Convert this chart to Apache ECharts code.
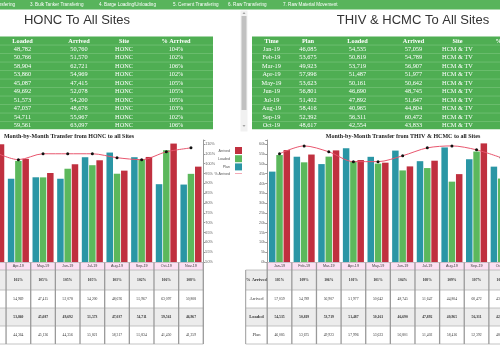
<!DOCTYPE html>
<html><head><meta charset="utf-8">
<script src="https://cdn.jsdelivr.net/npm/echarts@6/dist/echarts.min.js"></script>
<style>html,body{margin:0;padding:0;background:#fff;overflow:hidden}#c{width:500px;height:350px}</style>
</head><body><div id="c"></div>
<script>
// ---------- data ----------
const navTabs = ['2. Transfering','3. Bulk Tanker Transfering','4. Barge Loading\\Unloading','5. Cement Transfering','6. Raw Transfering','7. Raw Material Movement'];

const honcMonths  = ['Jan-19','Feb-19','Mar-19','Apr-19','May-19','Jun-19','Jul-19','Aug-19','Sep-19','Oct-19','Nov-19'];
const honcLoaded  = [48782,50766,58904,53860,45087,49692,51573,47037,54711,59561,46967];
const honcArrived = [50760,51570,62721,54969,47415,52078,54200,48676,55967,63097,50808];
const honcPct     = [104,102,106,102,105,105,105,103,102,106,108];
const honcPlan    = [null,null,47128,44364,45136,44356,55821,58317,55834,41450,41259];
const honcSite    = 'HONC';

const thivMonths  = ['Jan-19','Feb-19','Mar-19','Apr-19','May-19','Jun-19','Jul-19','Aug-19','Sep-19','Oct-19'];
const thivPlan    = [46085,53675,49923,57996,53623,56801,51402,58416,52392,48617];
const thivLoaded  = [54535,50819,53719,51487,50161,46690,47892,40965,56311,42554];
const thivArrived = [57059,54789,56907,51977,50642,48745,51647,44804,60472,43833];
const thivPct     = [105,109,106,101,101,104,108,109,107,103];
const thivSite    = 'HCM & TV';

const rowNames = ['% Arrived','Arrived','Loaded','Plan'];

// ---------- style ----------
const C_PLAN='#2a96a5', C_LOAD='#5cb85c', C_ARR='#c0303f', C_LINE='#e8566e';
const GREEN='#4fae53', GREEN_LINE='#72c275';
const SERIF='"Liberation Serif", "Times New Roman", serif';
const SANS='"Liberation Sans", Arial, sans-serif';
const fmt = v => v==null ? '' : v.toLocaleString('en-US');
const L0 = 2; // left chart starts at Mar (scrolled view)

const chart = echarts.init(document.getElementById('c'));

function valAxisLabel(unit){
  return {fontSize:3.8, color:'#666', fontFamily:SANS, margin:2,
    formatter: v => unit==='k' ? (v%5000===0 ? (v/1000)+'k' : '') : (v%5===0 ? v+'%' : '')};
}

const option = {
  animation:false,
  grid:[{left:-18.6, top:140, width:221.9, height:122, outerBoundsMode:'none', containLabel:false},
        {left:267.2, top:140, width:246.3, height:122, outerBoundsMode:'none', containLabel:false}],
  legend:{orient:'vertical', right:253, top:142, align:'right', itemWidth:7, itemHeight:7, itemGap:1.2,
    textStyle:{fontSize:3.6, color:'#555', fontFamily:SANS, padding:[0,0,0,0]},
    data:[{name:'Arrived',icon:'rect'},{name:'Loaded',icon:'rect'},{name:'Plan',icon:'rect'},
          {name:'% Arrived',icon:'path://M0,0H14V1H0Z', itemStyle:{color:C_LINE}}]},
  xAxis:[
    {type:'category', gridIndex:0, data:honcMonths.slice(L0), axisLine:{lineStyle:{color:'#999'}}, axisTick:{show:false}, axisLabel:{show:false}},
    {type:'category', gridIndex:1, data:thivMonths, axisLine:{lineStyle:{color:'#999'}}, axisTick:{show:false}, axisLabel:{show:false}}
  ],
  yAxis:[
    {type:'value', gridIndex:0, min:0, max:65000, show:false},
    {type:'value', gridIndex:0, position:'right', min:50, max:112, interval:5,
      axisLine:{show:true, lineStyle:{color:'#999'}}, axisTick:{show:true, length:2, lineStyle:{color:'#999'}},
      splitLine:{show:false}, axisLabel:valAxisLabel('%')},
    {type:'value', gridIndex:1, position:'left', min:0, max:62200, interval:5000,
      axisLine:{show:true, lineStyle:{color:'#999'}}, axisTick:{show:true, length:2, lineStyle:{color:'#999'}},
      splitLine:{show:false}, axisLabel:valAxisLabel('k')},
    {type:'value', gridIndex:1, position:'right', min:50, max:112, show:false}
  ],
  series:[
    {name:'Plan', type:'bar', xAxisIndex:0, yAxisIndex:0, data:honcPlan.slice(L0), itemStyle:{color:C_PLAN}, barWidth:6.5, barGap:'12%'},
    {name:'Loaded', type:'bar', xAxisIndex:0, yAxisIndex:0, data:honcLoaded.slice(L0), itemStyle:{color:C_LOAD}, barWidth:6.5, barGap:'12%'},
    {name:'Arrived', type:'bar', xAxisIndex:0, yAxisIndex:0, data:honcArrived.slice(L0), itemStyle:{color:C_ARR}, barWidth:6.5, barGap:'12%'},
    {name:'% Arrived', type:'line', xAxisIndex:0, yAxisIndex:1, data:honcPct.slice(L0), smooth:0.3,
      symbol:'circle', symbolSize:3, itemStyle:{color:'#111'}, lineStyle:{color:C_LINE, width:1}, z:5},
    {name:'Plan', type:'bar', xAxisIndex:1, yAxisIndex:2, data:thivPlan, itemStyle:{color:C_PLAN}, barWidth:6.5, barGap:'12%'},
    {name:'Loaded', type:'bar', xAxisIndex:1, yAxisIndex:2, data:thivLoaded, itemStyle:{color:C_LOAD}, barWidth:6.5, barGap:'12%'},
    {name:'Arrived', type:'bar', xAxisIndex:1, yAxisIndex:2, data:thivArrived, itemStyle:{color:C_ARR}, barWidth:6.5, barGap:'12%'},
    {name:'% Arrived', type:'line', xAxisIndex:1, yAxisIndex:3, data:thivPct, smooth:0.3,
      symbol:'circle', symbolSize:3, itemStyle:{color:'#111'}, lineStyle:{color:C_LINE, width:1}, z:5}
  ]
};
chart.setOption(option);

// ---------- graphic (tables, titles, nav) ----------
const G = [];
function txt(x,y,t,o){ o=o||{}; G.push({type:'text', x:x, y:y, z:o.z||100, style:{text:t, fill:o.fill||'#222',
  fontSize:o.size||5, fontFamily:o.family||SANS, fontWeight:o.weight||'normal', align:o.align||'center', verticalAlign:'middle'}}); }
function rect(x,y,w,h,fill,z){ G.push({type:'rect', z:z||99, shape:{x:x,y:y,width:w,height:h}, style:{fill:fill}}); }
function line(x1,y1,x2,y2,stroke,w,z){ G.push({type:'line', z:z||101, shape:{x1:x1,y1:y1,x2:x2,y2:y2}, style:{stroke:stroke, lineWidth:w||1}}); }

// nav bar
rect(0,0,500,9.5,'#58b45c');
const navX=[15,30,99,173,228,283];
navTabs.forEach((t,i)=>txt(navX[i],5,t,{fill:'#fff',size:4.6,align:i===0?'right':'left'}));

// titles
txt(77,20.5,'HONC To All Sites',{size:13,fill:'#333'});
txt(413,20.5,'THIV & HCMC To All Sites',{size:13,fill:'#333'});

// top tables
const rowY0=49.3, rowH=8.5;
function greenTable(x0,x1,cols,colX,rows){
  rect(x0,36.5,x1-x0,93,GREEN);
  cols.forEach((c,j)=>txt(colX[j],41.5,c,{fill:'#fff',size:6.3,family:SERIF,weight:'bold'}));
  for(let i=0;i<rows.length;i++){
    const y=rowY0+i*rowH;
    line(x0,y-4.25,x1,y-4.25,GREEN_LINE,0.8);
    rows[i].forEach((v,j)=>txt(colX[j],y,v,{fill:'#fff',size:6.3,family:SERIF}));
  }
  rect(x0,129.5,x1-x0,4,'#fff',102);
}
greenTable(0,213,['Loaded','Arrived','Site','% Arrived'],[22.5,79,124,176],
  honcLoaded.slice(0,10).map((v,i)=>[fmt(v),fmt(honcArrived[i]),honcSite,honcPct[i]+'%']));
greenTable(252,520,['Time','Plan','Loaded','Arrived','Site','% Arrived'],[271.5,308,357.5,413.5,457.5,510],
  thivMonths.map((m,i)=>[m,fmt(thivPlan[i]),fmt(thivLoaded[i]),fmt(thivArrived[i]),thivSite,thivPct[i]+'%']));

// scrollbar
rect(240.5,10.5,7,121,'#f1f1f1');
rect(241.5,16,5,94,'#c1c1c1',100);
G.push({type:'polygon',z:101,shape:{points:[[242.5,14],[245.5,14],[244,12]]},style:{fill:'#a3a3a3'}});
G.push({type:'polygon',z:101,shape:{points:[[242.5,125],[245.5,125],[244,127]]},style:{fill:'#a3a3a3'}});

// chart titles
txt(69,136.5,'Month-by-Month Transfer from HONC to all Sites',{size:6,family:SERIF,weight:'bold',fill:'#222'});
txt(403,136.5,'Month-by-Month Transfer from THIV & HCMC to all Sites',{size:6,family:SERIF,weight:'bold',fill:'#222'});

// bottom tables (column positions from the category axes)
const rowTop=[262.5,270,290,308,326,344];
function bottomTable(axisIdx,cats,rowsData,withHeader){
  const cx = i => chart.convertToPixel({xAxisIndex:axisIdx}, i);
  const band = cx(1)-cx(0);
  const xL = cx(0)-band/2, xR = cx(cats.length-1)+band/2;
  const hx0 = xL-21.5;
  const left = withHeader ? hx0 : xL;
  for(let r=0;r<4;r++) rect(left,rowTop[r+1],xR-left,rowTop[r+2]-rowTop[r+1], r%2===0?'#ececec':'#fff',98);
  rect(xL,rowTop[0],xR-xL,rowTop[1]-rowTop[0],'#fbe1f3',98);
  for(let r=1;r<rowTop.length;r++) line(left,rowTop[r],xR,rowTop[r],'#b5b5b5',0.8);
  cats.forEach((c,i)=>{
    const x=cx(i);
    txt(x,266.3,c,{size:3.7,fill:'#444'});
    rowsData.forEach((arr,r)=>{
      const v = arr[i];
      const s = r===0 ? (v==null?'':v+'%') : fmt(v);
      const y=(rowTop[r+1]+rowTop[r+2])/2;
      txt(x,y,s,{size:3.7,family:SERIF,weight:(r%2===0)?'bold':'normal',fill:'#333'});
    });
    line(x-band/2,rowTop[0],x-band/2,344,'#9a9a9a',1.3);
  });
  line(xR,rowTop[0],xR,344,'#9a9a9a',1.3);
  if(withHeader){
    line(hx0,rowTop[1],hx0,344,'#9a9a9a',1);
    rowNames.forEach((n,r)=>txt(hx0+10.8,(rowTop[r+1]+rowTop[r+2])/2,n,{size:4.5,family:SERIF,weight:(r%2===0)?'bold':'normal',fill:'#333'}));
  }
}
bottomTable(0,honcMonths.slice(L0),[honcPct.slice(L0),honcArrived.slice(L0),honcLoaded.slice(L0),honcPlan.slice(L0)],false);
bottomTable(1,thivMonths,[thivPct,thivArrived,thivLoaded,thivPlan],true);

chart.setOption({graphic:{elements:G}});
</script>
</body></html>
